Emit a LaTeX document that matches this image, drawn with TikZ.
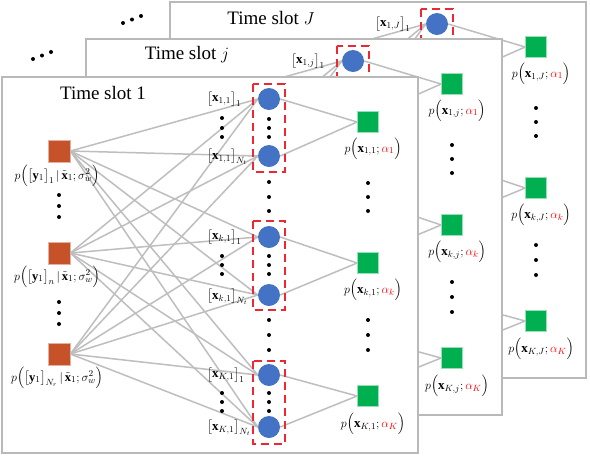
\documentclass[tikz,border=0pt]{standalone}
\usepackage{fontspec}
\setmainfont{Liberation Serif}
\usepackage{amsmath}
\definecolor{orng}{RGB}{197,82,40}
\definecolor{blu}{RGB}{68,114,196}
\definecolor{grn}{RGB}{0,176,80}
\definecolor{edgegray}{RGB}{190,190,190}
\definecolor{panelgray}{RGB}{185,185,185}
\definecolor{dashred}{RGB}{238,40,50}
\tikzset{
 panelbox/.style={draw=panelgray, line width=2.5pt, fill=white},
 obs/.style={rectangle, fill=orng, draw=orng!45!white, line width=0.8pt, minimum size=22pt, inner sep=0pt},
 var/.style={circle, fill=blu, minimum size=22pt, inner sep=0pt},
 prior/.style={rectangle, fill=grn, draw=grn!40!white, line width=0.8pt, minimum size=21pt, inner sep=0pt},
 edge/.style={draw=edgegray, line width=1.5pt},
 group/.style={draw=dashred, line width=1.6pt, dash pattern=on 8pt off 5pt},
 lbl/.style={font=\fontsize{13}{15}\selectfont, inner sep=0pt},
 plbl/.style={font=\fontsize{13}{15}\selectfont, inner sep=0pt},
 ylbl/.style={font=\fontsize{12.5}{15}\selectfont, inner sep=0pt},
 ttl/.style={font=\fontsize{19}{22}\selectfont, inner sep=0pt},
}
\newcommand\dotcol[2]{\foreach \yy in {#2} {\fill (#1,\yy) circle (2pt);}}
% #1 prefix, #2 slot index, #3 title
\newcommand\timepanel[3]{%
 \draw[panelbox] (2,77) rectangle (418,453);
 \node[ttl] (#1T) at (103,93) {#3};
 \node[obs] (#1o1) at (59,151) {};
 \node[obs] (#1o2) at (59,253) {};
 \node[obs] (#1o3) at (59,354) {};
 \node[var] (#1b1) at (269,99) {};
 \node[var] (#1b2) at (269,156) {};
 \node[var] (#1b3) at (269,237) {};
 \node[var] (#1b4) at (269,295) {};
 \node[var] (#1b5) at (269,375) {};
 \node[var] (#1b6) at (269,427) {};
 \node[prior] (#1g1) at (368,122) {};
 \node[prior] (#1g2) at (368,263) {};
 \node[prior] (#1g3) at (368,396) {};
 \foreach \i in {1,2,3} {\foreach \j in {1,...,6} {\draw[edge] (#1o\i.east) -- (#1b\j.west);}}
 \draw[edge] (#1b1.east) -- (#1g1.west);
 \draw[edge] (#1b2.east) -- (#1g1.west);
 \draw[edge] (#1b3.east) -- (#1g2.west);
 \draw[edge] (#1b4.east) -- (#1g2.west);
 \draw[edge] (#1b5.east) -- (#1g3.west);
 \draw[edge] (#1b6.east) -- (#1g3.west);
 \draw[group] (253,84) rectangle (285,172);
 \draw[group] (253,221) rectangle (285,310);
 \draw[group] (253,361) rectangle (285,444);
 \node[ylbl] (#1y1) at (57,176) {$p\Bigl(\bigl[\mathbf{y}_{#2}\bigr]_1\,|\,\tilde{\mathbf{x}}_{#2};\sigma_w^2\Bigr)$};
 \node[ylbl] (#1y2) at (57,277) {$p\Bigl(\bigl[\mathbf{y}_{#2}\bigr]_n\,|\,\tilde{\mathbf{x}}_{#2};\sigma_w^2\Bigr)$};
 \node[ylbl] (#1y3) at (57,378) {$p\Bigl(\bigl[\mathbf{y}_{#2}\bigr]_{N_r}\,|\,\tilde{\mathbf{x}}_{#2};\sigma_w^2\Bigr)$};
 \node[lbl, anchor=west] (#1x1) at (207,99) {$\bigl[\mathbf{x}_{1,#2}\bigr]_1$};
 \node[lbl, anchor=west] (#1x2) at (207,157) {$\bigl[\mathbf{x}_{1,#2}\bigr]_{N_t}$};
 \node[lbl, anchor=west] (#1x3) at (207,237) {$\bigl[\mathbf{x}_{k,#2}\bigr]_1$};
 \node[lbl, anchor=west] (#1x4) at (207,297) {$\bigl[\mathbf{x}_{k,#2}\bigr]_{N_t}$};
 \node[lbl, anchor=west] (#1x5) at (207,375) {$\bigl[\mathbf{x}_{K,#2}\bigr]_1$};
 \node[lbl, anchor=west] (#1x6) at (207,428) {$\bigl[\mathbf{x}_{K,#2}\bigr]_{N_t}$};
 \node[plbl] (#1p1) at (373,149) {$p\Bigl(\mathbf{x}_{1,#2};{\color{red}\alpha_1}\Bigr)$};
 \node[plbl] (#1p2) at (373,290) {$p\Bigl(\mathbf{x}_{k,#2};{\color{red}\alpha_k}\Bigr)$};
 \node[plbl] (#1p3) at (373,424) {$p\Bigl(\mathbf{x}_{K,#2};{\color{red}\alpha_K}\Bigr)$};
 \dotcol{59}{195,206,217}
 \dotcol{59}{302,313,324}
 \dotcol{222}{118,128,137}
 \dotcol{222}{256,265,274}
 \dotcol{222}{393,402,411}
 \dotcol{269}{119,128,137}
 \dotcol{269}{256,265,274}
 \dotcol{269}{393,402,411}
 \dotcol{269}{182,197,211}
 \dotcol{269}{320,335,350}
 \dotcol{368}{183,197,211}
 \dotcol{368}{320,335,350}
}
\begin{document}
\begin{tikzpicture}[x=1pt,y=-1pt]
\useasboundingbox (0,0) rectangle (590,456);
\fill (123,23) circle (2pt); \fill (132,19.5) circle (2pt); \fill (141,16) circle (2pt);
\fill (33,59) circle (2pt); \fill (42,55.5) circle (2pt); \fill (51,52) circle (2pt);
\begin{scope}[shift={(168,-75)}]
 \timepanel{C}{J}{Time slot $J$}
\end{scope}
\begin{scope}[shift={(84,-38)}]
 \timepanel{B}{j}{Time slot $j$}
\end{scope}
\timepanel{A}{1}{Time slot 1}
\end{tikzpicture}
\end{document}
